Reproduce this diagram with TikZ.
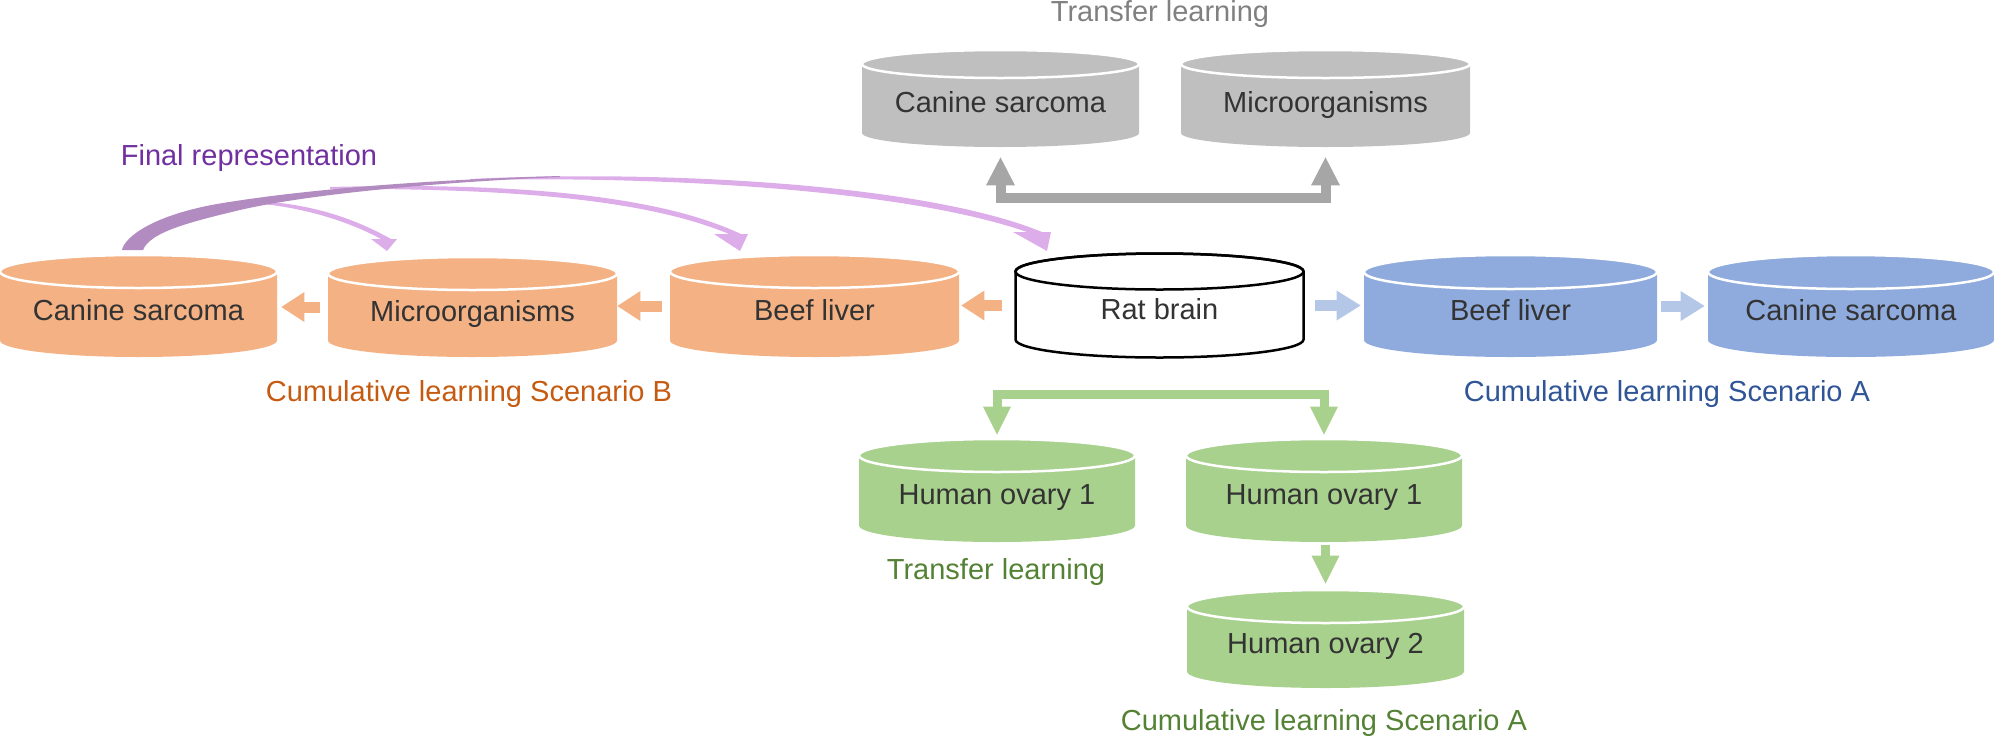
\documentclass[tikz,border=0pt]{standalone}
\usepackage{fontspec}
\setmainfont{Liberation Sans}
\usetikzlibrary{arrows.meta}
\definecolor{orF}{HTML}{F4B183}
\definecolor{blF}{HTML}{8FAADC}
\definecolor{blA}{HTML}{B4C7E7}
\definecolor{grF}{HTML}{BFBFBF}
\definecolor{grA}{HTML}{A6A6A6}
\definecolor{gnF}{HTML}{A9D18E}
\definecolor{txt}{HTML}{333333}
\definecolor{purT}{HTML}{7030A0}
\definecolor{orT}{HTML}{C55A11}
\definecolor{blT}{HTML}{2F5597}
\definecolor{gnT}{HTML}{548235}
\definecolor{grT}{HTML}{808080}
\definecolor{purD}{HTML}{B28BC0}
\definecolor{purL}{HTML}{DDADEA}
\def\cylry{15}
\newcommand{\mycyl}[8]{%
  \pgfmathsetmacro\cylrx{#4/2}%
  \pgfmathsetmacro\cylxl{#2-#4/2}%
  \pgfmathsetmacro\cylxr{#2+#4/2}%
  \pgfmathsetmacro\cylyt{#3-#5/2+\cylry}%
  \pgfmathsetmacro\cylyb{#3+#5/2-\cylry}%
  \path[#6] (\cylxl,\cylyt) -- (\cylxl,\cylyb)
     arc[start angle=180,end angle=0,x radius=\cylrx,y radius=\cylry]
     -- (\cylxr,\cylyt)
     arc[start angle=0,end angle=-180,x radius=\cylrx,y radius=\cylry] -- cycle;
  \path[#7] (#2,\cylyt) ellipse[x radius=\cylrx,y radius=\cylry];
  \node[cylbox, minimum width=#4*0.5pt, minimum height=#5*0.5pt] (#1) at (#2,#3) {};
  \node[cyltext] (#1-t) at ([yshift=-3.5pt]#1.center) {#8};
}
\tikzset{
  cylbox/.style={rectangle, inner sep=0pt, draw=none},
  cyltext/.style={font=\fontsize{14.5}{17}\selectfont, text=txt, inner sep=0pt, text height=0.716em, text depth=0pt},
  lab/.style={font=\fontsize{14.5}{17}\selectfont, inner sep=0pt, text height=0.716em, text depth=0pt},
  topline/.style={draw=white, line width=1.25pt},
  harrO/.style={draw=orF, line width=5.5pt, -{Triangle[length=11.5pt,width=15pt,line width=0pt]}},
  harrB/.style={draw=blA, line width=5.5pt, -{Triangle[length=12pt,width=15pt,line width=0pt]}},
  garr/.style={draw=grA, line width=5pt, {Triangle[length=14pt,width=14.5pt,line width=0pt]}-{Triangle[length=14pt,width=14.5pt,line width=0pt]}},
  gnarrD/.style={draw=gnF, line width=4.5pt, {Triangle[length=14pt,width=14pt,line width=0pt]}-{Triangle[length=14pt,width=14pt,line width=0pt]}},
  gnarr/.style={draw=gnF, line width=4.5pt, -{Triangle[length=14pt,width=14pt,line width=0pt]}}
}
\begin{document}
\begin{tikzpicture}[x=0.5pt,y=-0.5pt]
\useasboundingbox (0,0) rectangle (1994,740);
% orange cylinders
\def\cylry{16.5}
\mycyl{ocs}{138.5}{306}{277}{102}{fill=orF}{topline}{Canine sarcoma}
\mycyl{omo}{472.5}{307}{289}{100}{fill=orF}{topline}{Microorganisms}
\mycyl{obl}{814.5}{306}{289}{102}{fill=orF}{topline}{Beef liver}
% rat brain
\def\cylry{18}
\mycyl{rat}{1159.5}{305.5}{288}{104}{fill=white,draw=black,line width=1.25pt}{draw=black,line width=1.25pt}{Rat brain}
% blue cylinders
\def\cylry{17}
\mycyl{bbl}{1510.5}{306}{293}{102}{fill=blF}{topline}{Beef liver}
\mycyl{bcs}{1851}{306}{286}{102}{fill=blF}{topline}{Canine sarcoma}
% gray cylinders
\def\cylry{14}
\mycyl{gcs}{1000.5}{98.5}{277}{97}{fill=grF}{topline}{Canine sarcoma}
\mycyl{gmo}{1325.5}{98.5}{289}{97}{fill=grF}{topline}{Microorganisms}
% green cylinders
\def\cylry{16.5}
\mycyl{gho1}{997}{490.5}{276}{103}{fill=gnF}{topline}{Human ovary 1}
\mycyl{gho1r}{1324}{490.5}{276}{103}{fill=gnF}{topline}{Human ovary 1}
\mycyl{gho2}{1325.5}{639}{277}{98}{fill=gnF}{topline}{Human ovary 2}

% horizontal block arrows
\draw[harrO, shorten <=6.75pt, shorten >=1pt] (rat.west) -- (rat.west -| obl.east);
\draw[harrO, shorten <=4pt, shorten >=0pt] (obl.west) -- (obl.west -| omo.east);
\draw[harrO, shorten <=4pt, shorten >=2pt] (omo.west) -- (omo.west -| ocs.east);
\draw[harrB, shorten <=5.75pt, shorten >=1.5pt] (rat.east) -- (rat.east -| bbl.west);
\draw[harrB, shorten <=2pt, shorten >=1.5pt] (bbl.east) -- (bbl.east -| bcs.west);

% gray transfer connector
\coordinate (gj) at (1163,197.5);
\draw[garr, shorten <=5pt, shorten >=5pt] (gcs.south) -- (gcs.south |- gj) -- (gmo.south |- gj) -- (gmo.south);

% green connectors
\coordinate (nj) at (1160,394);
\draw[gnarrD, shorten <=2pt, shorten >=2pt] (gho1.north) -- (gho1.north |- nj) -- (gho1r.north |- nj) -- (gho1r.north);
\draw[gnarr, shorten <=1.5pt, shorten >=3pt] (gho2.north |- gho1r.south) -- (gho2.north);

% purple final representation arrows
\fill[purL] (470,179) .. controls (650,170) and (920,182) .. (1042,232) -- (1027,232) .. controls (900,188) and (650,176) .. (470,180) -- cycle;
\fill[purL] (1013,232) -- (1047,251) -- (1051,232) -- cycle;
\fill[purL] (330,187) .. controls (520,182) and (660,196) .. (741,234) -- (729,234) .. controls (650,201) and (520,188) .. (330,189) -- cycle;
\fill[purL] (714,234) -- (740,251) -- (748,234) -- cycle;
\fill[purL] (250,201) .. controls (305,202) and (352,217) .. (391,239) -- (381,239) .. controls (348,221) and (300,206) .. (250,203) -- cycle;
\fill[purL] (371,239) -- (387,251) -- (397,239) -- cycle;
\fill[purD] (122,250) .. controls (125,236) and (155,215) .. (217,204) .. controls (300,190) and (420,180) .. (560,176) -- (560,177) .. controls (420,183) and (300,196) .. (240,210) .. controls (190,222) and (150,232) .. (143,250) -- cycle;

% labels
\node[lab, text=grT] (tlgray) at (1160,14) {Transfer learning};
\node[lab, text=purT] (finrep) at (249,158) {Final representation};
\node[lab, text=orT] (clb) at (469,394) {Cumulative learning Scenario B};
\node[lab, text=blT] (cla) at (1667,394) {Cumulative learning Scenario A};
\node[lab, text=gnT] (tlgreen) at (996,572) {Transfer learning};
\node[lab, text=gnT] (clagreen) at (1324,723) {Cumulative learning Scenario A};
\end{tikzpicture}
\end{document}
